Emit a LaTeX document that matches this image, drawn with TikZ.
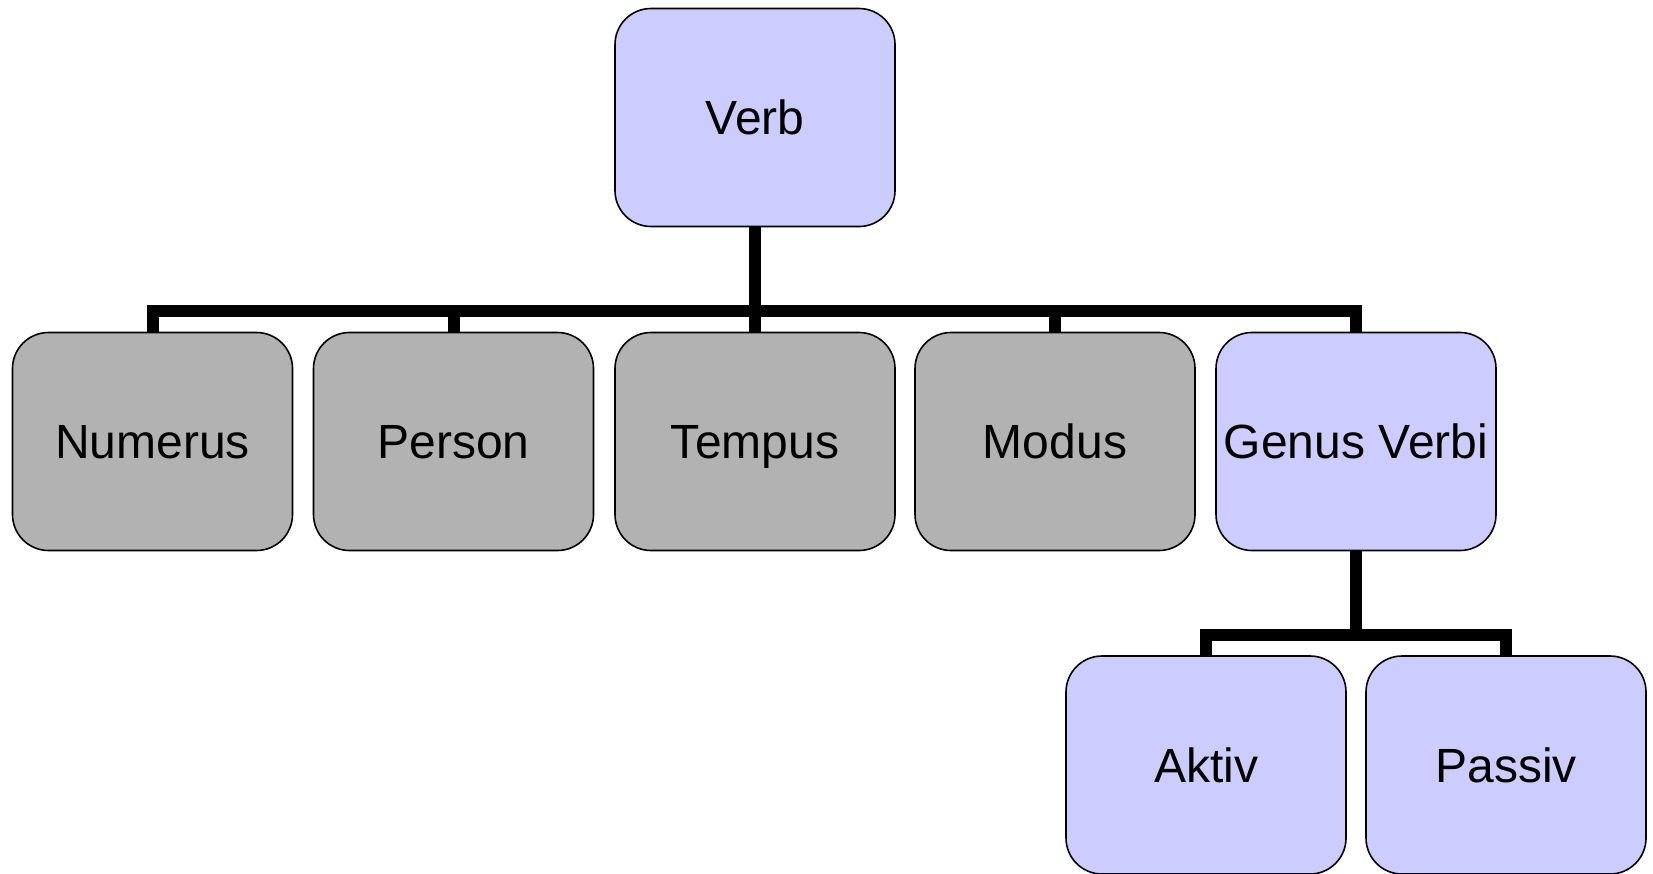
\documentclass[tikz,border=0pt]{standalone}
\usepackage{fontspec}
\setmainfont{Liberation Sans}
\definecolor{lav}{HTML}{CCCCFF}
\definecolor{grayfill}{HTML}{B2B2B2}
\tikzset{
  box/.style={draw=black, line width=0.8pt, rounded corners=18pt, minimum width=140pt, minimum height=109pt, inner sep=0pt, text height=17.2pt, text depth=0pt, font=\fontsize{24pt}{28pt}\selectfont, text=black},
  lavbox/.style={box, fill=lav},
  graybox/.style={box, fill=grayfill},
  conn/.style={line width=6pt, black, line join=miter}
}
\begin{document}
\begin{tikzpicture}[x=0.5pt,y=-0.5pt]
\useasboundingbox (0,0) rectangle (1653,873);
\coordinate (bar) at (755,311);
\coordinate (bar2) at (1356,635);
\node[lavbox] (verb) at (755,117.5) {Verb};
\node[graybox] (numerus) at (152.5,441.5) {Numerus};
\node[graybox] (person) at (453.5,441.5) {Person};
\node[graybox] (tempus) at (755,441.5) {Tempus};
\node[graybox] (modus) at (1055,441.5) {Modus};
\node[lavbox] (genus) at (1356,441.5) {Genus Verbi};
\node[lavbox] (aktiv) at (1206,765) {Aktiv};
\node[lavbox] (passiv) at (1506,765) {Passiv};
\draw[conn] (verb.south) -- (verb.south |- bar);
\draw[conn] (numerus.north) |- (genus.north |- bar) -- (genus.north);
\draw[conn] (person.north) -- (person.north |- bar);
\draw[conn] (tempus.north) -- (tempus.north |- bar);
\draw[conn] (modus.north) -- (modus.north |- bar);
\draw[conn] (genus.south) -- (genus.south |- bar2);
\draw[conn] (aktiv.north) |- (passiv.north |- bar2) -- (passiv.north);
\end{tikzpicture}
\end{document}
